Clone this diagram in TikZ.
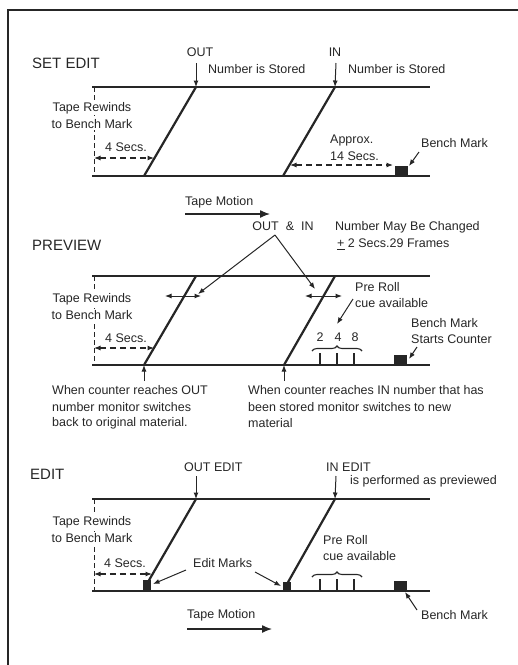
\documentclass[tikz,border=0pt]{standalone}
\usepackage{fontspec}
\setmainfont{Liberation Sans}
\usetikzlibrary{arrows.meta,decorations.pathreplacing}
\definecolor{ink}{RGB}{38,38,38}
\begin{document}
\begin{tikzpicture}[x=1pt,y=-1pt,
  tape/.style={draw=ink,line width=2.2pt},
  frame/.style={draw=ink,line width=1.8pt},
  arr/.style={draw=ink,line width=1pt,-{Latex[length=6.5pt,width=5pt]}},
  darr/.style={draw=ink,line width=1pt,{Latex[length=6.5pt,width=5pt]}-{Latex[length=6.5pt,width=5pt]}},
  ddarr/.style={draw=ink,line width=1.1pt,dash pattern=on 6pt off 4pt,{Latex[length=6.5pt,width=5pt]}-{Latex[length=6.5pt,width=5pt]}},
  dline/.style={draw=ink,line width=1pt,dash pattern=on 5pt off 3pt},
  motion/.style={draw=ink,line width=1.3pt,-{Latex[length=10pt,width=8pt]}},
  tick/.style={draw=ink,line width=1.4pt},
  bmark/.style={fill=ink,draw=none},
  brc/.style={draw=ink,line width=1.1pt,decorate,decoration={brace,amplitude=5pt}},
  lbl/.style={text=ink,inner sep=0pt,font=\fontsize{12.5}{14}\selectfont},
  wlbl/.style={lbl,fill=white,inner xsep=1pt,inner ysep=1pt},
  head/.style={text=ink,inner sep=0pt,font=\fontsize{15}{17}\selectfont,anchor=west}
]
\useasboundingbox (0,0) rectangle (518,665);

% frame
\coordinate (fTL) at (8,10);
\coordinate (fTR) at (518,10);
\coordinate (fBL) at (8,665);
\draw[frame] (fTR) -- (fTL) -- (fBL);

%================ SET EDIT =================
\node[head] (h1) at (32,63) {SET EDIT};
\coordinate (a1tl) at (92,87);  \coordinate (a1tr) at (430,87);
\coordinate (a1bl) at (92,176); \coordinate (a1br) at (430,176);
\coordinate (a1o) at (196,87);  \coordinate (a1ob) at (144,176);
\coordinate (a1i) at (335,87);  \coordinate (a1ib) at (283,176);
\draw[tape] (a1tl) -- (a1tr);
\draw[tape] (a1bl) -- (a1br);
\draw[tape] (a1o) -- (a1ob);
\draw[tape] (a1i) -- (a1ib);
% dashed rewind line
\coordinate (a1dt) at (94,87); \coordinate (a1db) at (94,176);
\draw[dline] (a1dt) -- (a1db);
\node[wlbl] (a1r1) at (92,108) {Tape Rewinds};
\node[wlbl] (a1r2) at (92,124) {to Bench Mark};
\node[lbl,anchor=west] (a1s) at (105,147) {4 Secs.};
\coordinate (a1sa) at (94,158); \coordinate (a1sb) at (154,158);
\draw[ddarr] (a1sa) -- (a1sb);
% OUT / IN labels
\node[lbl] (a1out) at (200,52) {OUT};
\coordinate (a1oa) at (196,63);
\draw[arr] (a1oa) -- (a1o);
\node[lbl,anchor=west] (a1ns) at (208,69) {Number is Stored};
\node[lbl] (a1in) at (335,52) {IN};
\coordinate (a1ia) at (336,63);
\draw[arr] (a1ia) -- (a1i);
\node[lbl,anchor=west] (a1ns2) at (348,69) {Number is Stored};
% approx
\node[lbl,anchor=west] (a1ap) at (330,140) {Approx.};
\node[lbl,anchor=west] (a1ap2) at (330,156) {14 Secs.};
\coordinate (a1aa) at (290,165); \coordinate (a1ab) at (393,165);
\draw[ddarr] (a1aa) -- (a1ab);
% bench mark
\fill[bmark] (395,166) rectangle (408,177);
\coordinate (a1bm) at (409,166);
\node[lbl,anchor=west] (a1bmt) at (421,143) {Bench Mark};
\coordinate (a1bmc) at (419,152);
\draw[arr] (a1bmc) -- (a1bm);
% tape motion
\node[lbl,anchor=west] (a1tm) at (185,202) {Tape Motion};
\coordinate (a1ma) at (185,214); \coordinate (a1mb) at (270,214);
\draw[motion] (a1ma) -- (a1mb);

%================ PREVIEW =================
\node[head] (h2) at (32,245) {PREVIEW};
\coordinate (a2tl) at (92,276);  \coordinate (a2tr) at (430,276);
\coordinate (a2bl) at (92,365); \coordinate (a2br) at (430,365);
\coordinate (a2o) at (196,276);  \coordinate (a2ob) at (144,365);
\coordinate (a2i) at (335,276);  \coordinate (a2ib) at (284,365);
\draw[tape] (a2tl) -- (a2tr);
\draw[tape] (a2bl) -- (a2br);
\draw[tape] (a2o) -- (a2ob);
\draw[tape] (a2i) -- (a2ib);
\coordinate (a2dt) at (94,276); \coordinate (a2db) at (94,365);
\draw[dline] (a2dt) -- (a2db);
\node[wlbl] (a2r1) at (92,299) {Tape Rewinds};
\node[wlbl] (a2r2) at (92,315) {to Bench Mark};
\node[lbl,anchor=west] (a2s) at (105,338) {4 Secs.};
\coordinate (a2sa) at (94,348); \coordinate (a2sb) at (154,348);
\draw[ddarr] (a2sa) -- (a2sb);
% OUT & IN
\node[lbl] (a2oi) at (283,226) {OUT\ \ \&\ \ IN};
\coordinate (a2ap) at (275,235);
\coordinate (a2le) at (198,294);
\coordinate (a2re) at (315,289);
\draw[arr] (a2ap) -- (a2le);
\draw[arr] (a2ap) -- (a2re);
\coordinate (a2d1a) at (165,296); \coordinate (a2d1b) at (201,296);
\draw[darr] (a2d1a) -- (a2d1b);
\coordinate (a2d2a) at (305,296); \coordinate (a2d2b) at (342,296);
\draw[darr] (a2d2a) -- (a2d2b);
\node[lbl,anchor=west] (a2nm) at (335,227) {Number May Be Changed};
\node[lbl,anchor=west] (a2pm) at (337,244) {\underline{+}\ 2 Secs.29 Frames};
% pre roll
\node[lbl,anchor=west] (a2pr) at (355,287) {Pre Roll};
\node[lbl,anchor=west] (a2cu) at (355,303) {cue available};
\coordinate (a2pa) at (353,299); \coordinate (a2pb) at (337,324);
\draw[arr] (a2pa) -- (a2pb);
\node[lbl] (a2n2) at (320,337) {2};
\node[lbl] (a2n4) at (338,337) {4};
\node[lbl] (a2n8) at (355,337) {8};
\coordinate (a2ba) at (312,351); \coordinate (a2bb) at (362,351);
\draw[brc] (a2ba) -- (a2bb);
\coordinate (a2t1) at (320,353); \coordinate (a2t1b) at (320,365);
\coordinate (a2t2) at (337,353); \coordinate (a2t2b) at (337,365);
\coordinate (a2t3) at (354,353); \coordinate (a2t3b) at (354,365);
\draw[tick] (a2t1) -- (a2t1b);
\draw[tick] (a2t2) -- (a2t2b);
\draw[tick] (a2t3) -- (a2t3b);
% bench mark
\fill[bmark] (394,355) rectangle (407,366);
\node[lbl,anchor=west] (a2bm1) at (411,323) {Bench Mark};
\node[lbl,anchor=west] (a2bm2) at (411,339) {Starts Counter};
\coordinate (a2bma) at (417,347); \coordinate (a2bmb) at (409,359);
\draw[arr] (a2bma) -- (a2bmb);
% up arrows and captions
\coordinate (a2u1) at (144,381);
\draw[arr] (a2u1) -- (a2ob);
\coordinate (a2u2) at (284,381);
\draw[arr] (a2u2) -- (a2ib);
\node[lbl,anchor=west] (a2c1) at (52,390) {When counter reaches OUT};
\node[lbl,anchor=west] (a2c2) at (52,407) {number monitor switches};
\node[lbl,anchor=west] (a2c3) at (52,423) {back to original material.};
\node[lbl,anchor=west] (a2c4) at (248,390) {When counter reaches IN number that has};
\node[lbl,anchor=west] (a2c5) at (248,407) {been stored monitor switches to new};
\node[lbl,anchor=west] (a2c6) at (248,423) {material};

%================ EDIT =================
\node[head] (h3) at (30,474) {EDIT};
\coordinate (a3tl) at (92,499);  \coordinate (a3tr) at (430,499);
\coordinate (a3bl) at (92,591); \coordinate (a3br) at (430,591);
\coordinate (a3o) at (196,499);  \coordinate (a3ob) at (148,582);
\coordinate (a3i) at (335,499);  \coordinate (a3ib) at (287,584);
\draw[tape] (a3tl) -- (a3tr);
\draw[tape] (a3bl) -- (a3br);
\draw[tape] (a3o) -- (a3ob);
\draw[tape] (a3i) -- (a3ib);
\coordinate (a3dt) at (94,499); \coordinate (a3db) at (94,591);
\draw[dline] (a3dt) -- (a3db);
\node[wlbl] (a3r1) at (92,522) {Tape Rewinds};
\node[wlbl] (a3r2) at (92,538) {to Bench Mark};
\node[lbl,anchor=west] (a3s) at (104,563) {4 Secs.};
\coordinate (a3sa) at (94,574); \coordinate (a3sb) at (152,574);
\draw[ddarr] (a3sa) -- (a3sb);
\node[lbl,anchor=west] (a3out) at (184,467) {OUT EDIT};
\coordinate (a3oa) at (196,476);
\draw[arr] (a3oa) -- (a3o);
\node[lbl,anchor=west] (a3in) at (326,467) {IN EDIT};
\coordinate (a3ia) at (336,476);
\draw[arr] (a3ia) -- (a3i);
\node[lbl,anchor=west] (a3pf) at (350,481) {is performed as previewed};
% edit marks
\fill[bmark] (143,580) rectangle (151,591);
\fill[bmark] (283,582) rectangle (291,591);
\node[lbl,anchor=west] (a3em) at (193,563) {Edit Marks};
\coordinate (a3e1a) at (186,570); \coordinate (a3e1b) at (153,584);
\draw[arr] (a3e1a) -- (a3e1b);
\coordinate (a3e2a) at (255,572); \coordinate (a3e2b) at (281,586);
\draw[arr] (a3e2a) -- (a3e2b);
% pre roll
\node[lbl,anchor=west] (a3pr) at (323,540) {Pre Roll};
\node[lbl,anchor=west] (a3cu) at (323,556) {cue available};
\coordinate (a3ba) at (312,577); \coordinate (a3bb) at (362,577);
\draw[brc] (a3ba) -- (a3bb);
\coordinate (a3t1) at (320,579); \coordinate (a3t1b) at (320,591);
\coordinate (a3t2) at (337,579); \coordinate (a3t2b) at (337,591);
\coordinate (a3t3) at (354,579); \coordinate (a3t3b) at (354,591);
\draw[tick] (a3t1) -- (a3t1b);
\draw[tick] (a3t2) -- (a3t2b);
\draw[tick] (a3t3) -- (a3t3b);
% bench mark
\fill[bmark] (394,581) rectangle (407,592);
\node[lbl,anchor=west] (a3bmt) at (421,615) {Bench Mark};
\coordinate (a3bma) at (417,610); \coordinate (a3bmb) at (405,592);
\draw[arr] (a3bma) -- (a3bmb);
% tape motion
\node[lbl,anchor=west] (a3tm) at (187,615) {Tape Motion};
\coordinate (a3ma) at (187,629); \coordinate (a3mb) at (272,629);
\draw[motion] (a3ma) -- (a3mb);
\end{tikzpicture}
\end{document}
